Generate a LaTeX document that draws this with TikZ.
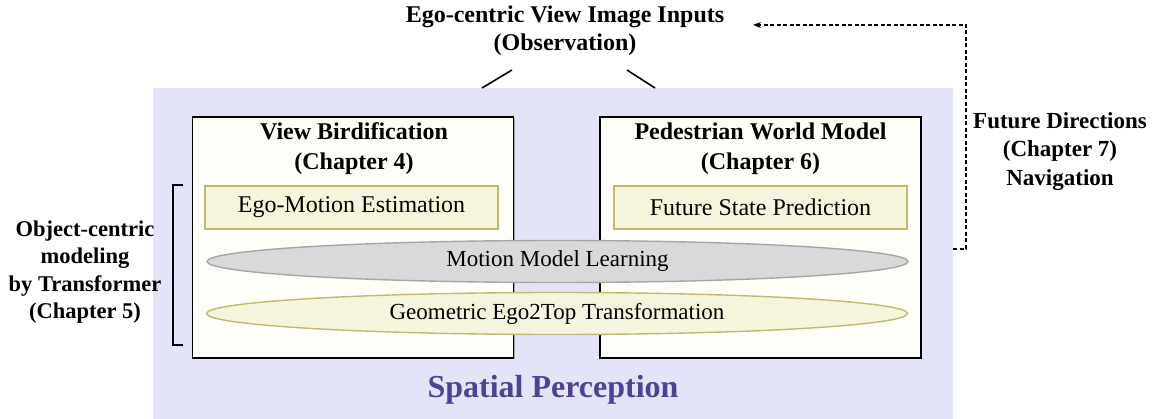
\documentclass[tikz,border=0pt]{standalone}
\usepackage{fontspec}
\setmainfont{Liberation Serif}
\usetikzlibrary{shapes.geometric,shadows,arrows.meta}

\definecolor{perceptbg}{HTML}{E4E4F8}
\definecolor{chapfill}{HTML}{FEFEF8}
\definecolor{taskfill}{HTML}{F5F5DD}
\definecolor{taskline}{HTML}{C2B96E}
\definecolor{greyfill}{HTML}{D9D9D9}
\definecolor{greyline}{HTML}{A6A6A6}
\definecolor{perceptink}{HTML}{4B4496}

\tikzset{
  heading/.style={font=\fontsize{24}{28}\selectfont\bfseries, align=center, inner sep=0pt},
  sidelabel/.style={font=\fontsize{22.5}{27.5}\selectfont\bfseries, align=center, inner sep=0pt},
  chapter/.style={draw=black, line width=1.6pt, fill=chapfill, minimum width=321pt, minimum height=241pt, inner sep=0pt,
    drop shadow={shadow xshift=1pt, shadow yshift=-1.4pt, fill=gray!70, opacity=1}},
  chaptitle/.style={font=\fontsize{24}{30}\selectfont\bfseries, align=center, inner sep=0pt},
  taskbox/.style={draw=taskline, line width=1.4pt, fill=taskfill, minimum width=293pt, minimum height=43pt, inner sep=0pt,
    font=\fontsize{24}{28}\selectfont},
  sharedtask/.style={ellipse, line width=1.4pt, minimum width=701pt, minimum height=42pt, inner sep=0pt,
    font=\fontsize{23}{28}\selectfont},
  link/.style={line width=1.6pt},
  feedback/.style={line width=1.6pt, dash pattern=on 4pt off 2.5pt, -{Stealth[length=8pt,width=6pt]}},
}

\begin{document}
\begin{tikzpicture}[x=1pt, y=-1pt]
  \useasboundingbox (0,0) rectangle (1155,419);

  % Spatial perception panel
  \fill[perceptbg] (153,88) rectangle (953,419);
  \node (panel) at (553,253.5) [minimum width=800pt, minimum height=331pt, inner sep=0pt] {};

  % Observation input
  \node[heading] (inputs) at (565,31) {Ego-centric View Image Inputs\\(Observation)};
  \coordinate (ltop) at (512,70);
  \coordinate (lbot) at (482,88);
  \coordinate (rtop) at (627,70);
  \coordinate (rbot) at (655,88);
  \draw[link] (ltop) -- (lbot);
  \draw[link] (rtop) -- (rbot);

  % Chapter boxes
  \node[chapter] (bird) at (353,237.5) {};
  \node[chapter] (world) at (760.5,237.5) {};
  \node[chaptitle] (birdtitle) at (354,149) {View Birdification\\(Chapter 4)};
  \node[chaptitle] (worldtitle) at (760.5,149) {Pedestrian World Model\\(Chapter 6)};

  % Chapter-specific tasks
  \node[taskbox] (egomotion) at (351.5,207.5) {Ego-Motion Estimation};
  \node[taskbox] (future) at (760.5,207.5) {Future State Prediction};

  % Shared tasks
  \node[sharedtask, draw=greyline, fill=greyfill] (motion) at (557.5,261.5) {Motion Model Learning};
  \node[sharedtask, draw=taskline, fill=taskfill] (ego2top) at (557,313.5) {Geometric Ego2Top Transformation};

  % Object-centric bracket and label
  \coordinate (btop) at (183,185);
  \coordinate (bbot) at (183,345);
  \draw[line width=1.6pt] (btop) -- (173,185) -- (173,345) -- (bbot);
  \node[sidelabel] (objcentric) at (85,272) {Object-centric\\modeling\\by Transformer\\(Chapter 5)};

  % Panel title
  \node[font=\fontsize{32}{36}\selectfont\bfseries, text=perceptink, inner sep=0pt] (spatial) at (553,390) {Spatial Perception};

  % Future directions feedback loop
  \node[sidelabel, font=\fontsize{23}{28.5}\selectfont\bfseries] (futuredir) at (1060,151.5) {Future Directions\\(Chapter 7)\\Navigation};
  \coordinate (loopstart) at (953,249);
  \coordinate (loopend) at (753,25);
  \draw[feedback] (loopstart) -- (966,249) -- (966,25) -- (loopend);
\end{tikzpicture}
\end{document}
